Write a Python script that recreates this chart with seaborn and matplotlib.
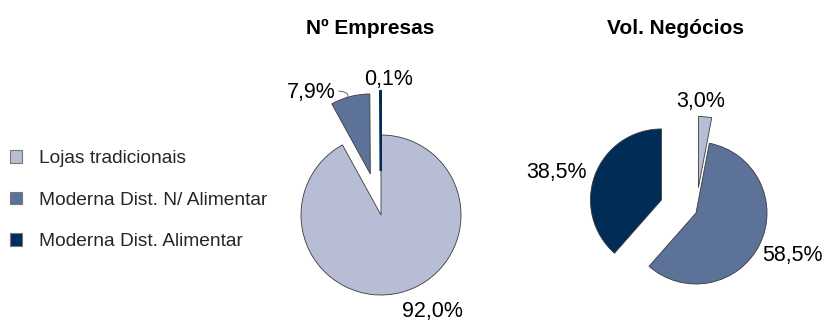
import numpy as np
import pandas as pd
import seaborn as sns
import matplotlib
matplotlib.use("Agg")
import matplotlib.pyplot as plt

# ---- data ----
categories = ["Lojas tradicionais", "Moderna Dist. N/ Alimentar", "Moderna Dist. Alimentar"]
empresas = [92.0, 7.9, 0.1]
negocios = [3.0, 58.5, 38.5]
titles = ["Nº Empresas", "Vol. Negócios"]

sns.set_theme(style="white")
plt.rcParams['font.family'] = ['Liberation Sans', 'DejaVu Sans']
colors = ["#b7bdd5", "#5d7299", "#002c55"]

W, H = 823, 322
fig = plt.figure(figsize=(W / 100, H / 100), dpi=100)
ax = fig.add_axes([0, 0, 1, 1])


def Y(y):
    return H - y


def fmt(v):
    return f"{v:.1f}%".replace(".", ",")


wp = dict(edgecolor="#3a3a3a", linewidth=0.6)

# pie 1
r1 = 80
w1, _ = ax.pie(empresas, colors=colors, startangle=90, counterclock=False,
               center=(381, Y(215)), radius=r1,
               explode=[0, 0.53 * r1, 0.55 * r1], wedgeprops=wp)
# tiny slice: outline in its own colour so it stays visible
w1[2].set_edgecolor(colors[2])
w1[2].set_linewidth(1.6)

# pie 2
r2 = 71
w2, _ = ax.pie(negocios, colors=colors, startangle=90, counterclock=False,
               center=(696, Y(213)), radius=r2,
               explode=[0.36 * r2, 0, 0.52 * r2], wedgeprops=wp)

ax.set_xlim(0, W)
ax.set_ylim(0, H)
ax.set_aspect("equal")
ax.axis("off")

fs = 15.5
# labels pie 1
pos1 = [(432, 311), (311, 92), (389, 79)]
for v, (x, y), in zip(empresas, pos1):
    if v == empresas[1]:
        ax.annotate(fmt(v), xy=(347, Y(99)), xytext=(x, Y(y)), ha="center", va="center",
                    fontsize=fs, color="black",
                    arrowprops=dict(arrowstyle="-", lw=0.6, color="#555555",
                                    shrinkA=0, shrinkB=0, relpos=(1.0, 0.55),
                                    connectionstyle="angle3,angleA=0,angleB=60"))
    else:
        ax.text(x, Y(y), fmt(v), ha="center", va="center", fontsize=fs, color="black")

pos2 = [(701, 101), (792, 255), (556, 172)]
for v, (x, y) in zip(negocios, pos2):
    ax.text(x, Y(y), fmt(v), ha="center", va="center", fontsize=fs, color="black")

# titles
ax.text(370, Y(28), titles[0], ha="center", va="center", fontsize=15, fontweight="bold", color="black")
ax.text(676, Y(28), titles[1], ha="center", va="center", fontsize=15, fontweight="bold", color="black")

leg = fig.legend(handles=w1, labels=categories, loc="upper left",
                 bbox_to_anchor=(10 / W, 1 - 150 / H), frameon=False, fontsize=13.8,
                 handlelength=0.65, handleheight=0.65, handletextpad=0.85,
                 labelspacing=1.28, borderpad=0, borderaxespad=0)
for h in leg.legend_handles:
    h.set_edgecolor("#777777")
    h.set_linewidth(0.8)

fig.savefig("out.png", dpi=100)
